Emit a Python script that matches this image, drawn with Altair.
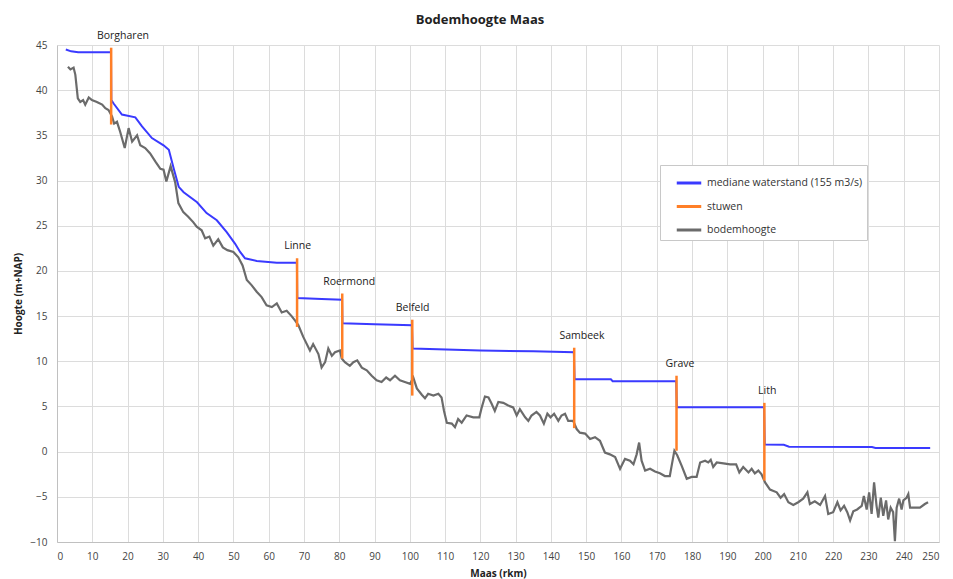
import altair as alt
import pandas as pd

# ---- data ----
km_water = [2.5, 4.0, 6.0, 15.3, 15.4, 16.1, 18.4, 22.2, 24.1, 26.9, 30.2, 31.7, 33.1, 34.5, 35.9,
            39.7, 42.4, 45.3, 48.1, 50.5, 51.9, 53.3, 56.6, 62.3, 68.0,
            68.1, 75.0, 80.8,
            80.9, 90.0, 100.6,
            100.8, 120.0, 135.0, 146.5,
            146.7, 157.0, 157.5, 175.5,
            175.7, 200.4,
            200.6, 206.0, 207.5, 231.0, 232.0, 247.5]
h_water = [44.5, 44.3, 44.2, 44.2, 38.9, 38.5, 37.3, 37.0, 36.0, 34.7, 33.9, 33.4, 31.3, 29.3, 28.7,
           27.6, 26.4, 25.6, 24.3, 23.0, 22.1, 21.4, 21.1, 20.9, 20.9,
           17.0, 16.9, 16.8,
           14.2, 14.1, 14.0,
           11.4, 11.2, 11.1, 11.0,
           8.0, 8.0, 7.8, 7.8,
           4.9, 4.9,
           0.8, 0.75, 0.55, 0.5, 0.4, 0.4]

km_bodem = [3.1, 3.8, 4.7, 5.2, 5.9, 6.6, 7.4, 8.0, 9.0, 9.9, 11.3, 12.8, 13.7, 14.6, 15.6, 16.2, 17.0,
            17.9, 19.2, 20.3, 21.3, 22.7, 23.6, 25.0, 26.4, 27.9, 29.3, 30.2, 31.0, 32.2, 33.5, 34.4,
            35.8, 37.2, 38.6, 39.6, 41.0, 42.0, 43.2, 44.3, 45.7, 47.0, 48.3, 50.0, 51.4, 52.6, 53.8,
            55.2, 56.6, 58.0, 59.4, 60.9, 62.3, 63.7, 65.1, 66.5, 67.5, 68.4, 69.8, 71.7, 72.6, 74.1,
            75.0, 76.0, 76.9, 77.9, 78.8, 80.2, 80.7, 81.6, 83.0, 84.0, 85.1, 86.4, 87.8, 89.2, 90.6,
            92.0, 93.3, 94.4, 95.8, 97.2, 98.6, 100.1, 101.0, 102.0, 103.4, 104.3, 105.2, 106.7, 108.1,
            109.0, 109.7, 110.5, 111.9, 112.8, 113.7, 114.7, 116.1, 118.0, 119.7, 120.4, 121.3, 122.3,
            123.2, 124.1, 125.1, 126.5, 127.9, 129.3, 130.3, 131.2, 132.7, 133.6, 134.5, 135.9, 136.9,
            138.0, 139.0, 139.9, 140.9, 142.1, 143.0, 144.0, 144.9, 146.3, 147.3, 148.2, 149.7, 151.1,
            152.5, 153.9, 155.3, 156.7, 158.2, 159.6, 161.0, 162.4, 163.4, 164.3, 165.0, 165.7, 166.7,
            168.1, 169.5, 170.9, 172.3, 173.7, 174.2, 175.0, 175.8, 177.1, 178.5, 179.9, 181.3, 182.3,
            183.7, 184.6, 185.3, 186.0, 187.0, 188.9, 190.8, 192.5, 193.4, 194.5, 196.0, 196.9, 197.8,
            198.8, 199.7, 200.7, 202.1, 204.0, 205.1, 206.1, 207.3, 208.7, 210.1, 211.5, 212.7, 213.4,
            214.8, 216.3, 217.7, 218.6, 220.0, 221.2, 222.1, 223.1, 224.0, 224.8, 225.7, 226.8, 228.1,
            228.7, 229.5, 230.2, 230.9, 231.6, 232.3, 232.8, 233.5, 234.2, 235.0, 235.6, 236.3, 237.0,
            237.5, 238.0, 238.7, 239.4, 239.9, 240.8, 241.3, 241.8, 243.2, 244.6, 246.0, 246.9]
h_bodem = [42.6, 42.3, 42.5, 41.7, 39.1, 38.7, 38.9, 38.4, 39.2, 38.9, 38.7, 38.4, 38.0, 37.8, 37.1, 36.3, 36.5,
           35.4, 33.6, 35.8, 34.3, 35.0, 33.9, 33.6, 33.0, 32.1, 31.3, 31.2, 29.9, 31.6, 29.8, 27.5,
           26.5, 26.0, 25.4, 24.9, 24.5, 23.6, 23.8, 22.8, 23.5, 22.6, 22.3, 22.1, 21.5, 20.6, 19.0,
           18.4, 17.7, 17.1, 16.2, 16.0, 16.4, 15.4, 15.6, 15.0, 14.5, 14.0, 12.7, 11.2, 11.9, 10.8,
           9.3, 9.9, 11.4, 10.6, 11.0, 11.2, 10.3, 9.9, 9.5, 9.9, 10.1, 9.3, 9.0, 8.4, 7.9,
           7.7, 8.2, 7.9, 8.4, 7.9, 7.7, 7.5, 8.2, 7.0, 6.3, 5.9, 6.4, 6.2, 6.4,
           6.0, 4.5, 3.2, 3.1, 2.7, 3.6, 3.2, 4.0, 3.8, 3.8, 4.9, 6.1, 6.0,
           5.3, 4.5, 5.5, 5.4, 5.1, 4.9, 4.0, 4.7, 3.8, 3.4, 4.0, 4.4, 4.0,
           3.1, 4.2, 3.8, 4.2, 3.4, 4.0, 4.2, 3.4, 3.4, 2.5, 2.1, 2.0, 1.4,
           1.6, 1.2, -0.1, -0.3, -0.6, -1.9, -0.8, -1.0, -1.4, -0.3, 1.0, -1.0, -2.1,
           -1.9, -2.2, -2.4, -2.7, -2.7, -1.6, 0.1, -0.4, -1.6, -3.0, -2.8, -2.8, -1.2,
           -1.0, -1.2, -0.9, -1.7, -1.2, -1.3, -1.4, -1.4, -2.3, -1.7, -2.3, -1.9, -2.4,
           -2.1, -2.5, -3.4, -4.2, -4.5, -5.1, -4.7, -5.6, -5.9, -5.6, -5.2, -4.5, -5.8,
           -5.5, -5.9, -4.9, -6.9, -6.7, -5.6, -6.5, -6.0, -6.7, -7.6, -6.6, -6.4, -6.0,
           -4.9, -6.4, -4.5, -6.9, -3.4, -6.0, -7.3, -5.1, -7.1, -5.4, -7.5, -6.2, -6.7,
           -9.9, -6.2, -5.2, -6.4, -5.4, -5.1, -4.7, -6.2, -6.2, -6.2, -5.8, -5.6]

weir_names = ["Borgharen", "Linne", "Roermond", "Belfeld", "Sambeek", "Grave", "Lith"]
weir_km = [15.35, 68.05, 80.85, 100.7, 146.6, 175.6, 200.5]
weir_top = [44.7, 21.4, 17.5, 14.6, 11.5, 8.4, 5.4]
weir_bottom = [36.2, 13.8, 10.3, 6.2, 2.6, 0.1, -3.2]
label_km = [18.7, 68.2, 82.8, 100.8, 148.8, 176.6, 201.3]

x_ticks = list(range(0, 251, 10))
y_ticks = list(range(-10, 46, 5))

series = ["mediane waterstand (155 m3/s)", "stuwen", "bodemhoogte"]
colors = ["#3a3aff", "#ff7f27", "#6b6b6b"]

FONT = "Open Sans"

water = pd.DataFrame({"km": km_water, "h": h_water, "serie": series[0],
                      "ord": list(range(len(km_water)))})
bodem = pd.DataFrame({"km": km_bodem, "h": h_bodem, "serie": series[2],
                      "ord": list(range(len(km_bodem)))})
weirs = pd.DataFrame({"name": weir_names, "km": weir_km, "top": weir_top,
                      "bottom": weir_bottom, "label_km": label_km, "serie": series[1]})

color = alt.Color(
    "serie:N",
    scale=alt.Scale(domain=series, range=colors),
    legend=alt.Legend(
        title=None, orient="none", legendX=603, legendY=120,
        symbolType="stroke", symbolSize=600, symbolStrokeWidth=3, symbolOffset=11,
        labelFontSize=10.5, labelFont=FONT, labelColor="#333333",
        strokeColor="#c8c8c8", fillColor="white", padding=4,
        rowPadding=3.5, labelOffset=4, labelLimit=300,
    ),
)

xscale = alt.Scale(domain=[0, 250], nice=False)
yscale = alt.Scale(domain=[-10, 45], nice=False)
xaxis = alt.Axis(values=x_ticks, title="Maas (rkm)", labelOverlap=False)
yaxis = alt.Axis(values=y_ticks, title="Hoogte (m+NAP)", labelOverlap=False)


def X(field):
    return alt.X(field, type="quantitative", scale=xscale, axis=xaxis)


def Y(field):
    return alt.Y(field, type="quantitative", scale=yscale, axis=yaxis)


line_w = alt.Chart(water).mark_line(strokeWidth=2).encode(
    x=X("km"), y=Y("h"), color=color, order="ord:Q")
line_b = alt.Chart(bodem).mark_line(strokeWidth=2.2).encode(
    x=X("km"), y=Y("h"), color=color, order="ord:Q")
rules = alt.Chart(weirs).mark_rule(strokeWidth=2.5).encode(
    x=X("km"), y=Y("top"), y2="bottom:Q", color=color)
labels = alt.Chart(weirs).mark_text(
    dy=-12, font=FONT, fontSize=10.5, color="#222222"
).encode(x=X("label_km"), y=Y("top"), text="name:N")

chart = alt.layer(line_w, line_b, rules, labels).properties(
    width=882, height=497,
    autosize=alt.AutoSizeParams(type="none"),
    padding={"left": 49, "top": 37, "right": 5, "bottom": 40},
    title=alt.TitleParams("Bodemhoogte Maas", font=FONT, fontSize=13, fontWeight="bold",
                          color="#222222", anchor="middle", dx=-18, offset=4),
).configure_view(stroke=None).configure_axis(
    labelFont=FONT, labelFontSize=10, labelColor="#444444",
    titleFont=FONT, titleFontSize=10, titleFontWeight="bold", titleColor="#222222",
    gridColor="#dcdcdc", gridWidth=1, domainColor="#c0c0c0", ticks=False,
).configure_axisX(labelPadding=9, titlePadding=7).configure_axisY(
    labelPadding=10, titlePadding=6)

chart.save("out.html", embed_options={"renderer": "svg", "actions": False})
